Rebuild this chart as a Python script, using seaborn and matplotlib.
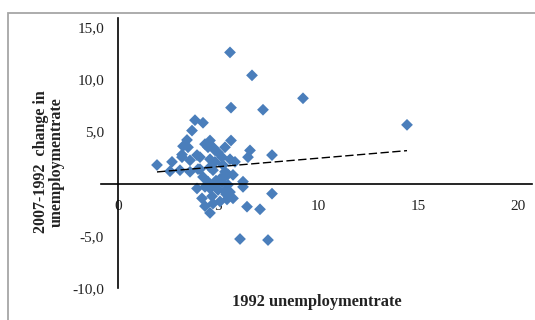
import numpy as np
import pandas as pd
import matplotlib
matplotlib.use("Agg")
import matplotlib.pyplot as plt
from matplotlib.patches import Rectangle
import seaborn as sns

# 1992 unemployment rate
rate_1992 = [5.6, 6.7, 9.25, 5.65, 7.25, 14.45, 3.85, 4.25, 3.7, 3.45,
             3.25, 3.2, 5.65, 4.6, 4.35, 4.75, 5.0, 6.6, 6.5, 7.7,
             1.95, 2.7, 3.2, 3.6, 3.95, 4.6, 5.6, 4.1, 4.75, 5.25,
             3.1, 3.6, 4.0, 4.25, 5.1, 5.75, 3.95, 4.6, 6.25, 4.35,
             4.2, 4.7, 5.1, 4.6, 5.75, 6.45, 7.1, 7.7, 6.1, 7.5,
             6.25, 4.85, 4.5, 5.2, 4.85, 5.35, 4.5, 4.85, 5.5, 4.35,
             2.6, 5.35, 4.1, 4.6, 5.85, 3.5, 4.75,
             5.3, 5.5, 5.0, 5.4, 4.9, 5.6, 5.2, 5.45, 5.15, 5.35]
# 2007-1992 change in unemployment rate
change = [12.6, 10.4, 8.2, 7.3, 7.1, 5.65, 6.1, 5.85, 5.1, 4.2,
          3.6, 2.8, 4.15, 4.15, 3.8, 3.5, 3.0, 3.2, 2.55, 2.75,
          1.8, 2.1, 2.55, 2.25, 2.75, 2.35, 2.35, 1.4, 1.3, 1.8,
          1.3, 1.15, 1.4, 0.65, 0.45, 0.85, -0.45, -0.45, -0.3, -0.3,
          -1.4, -1.2, -1.7, -2.8, -1.4, -2.2, -2.45, -0.95, -5.3, -5.4,
          0.2, 3.2, 3.5, 2.55, 2.1, 1.15, 0.2, -0.1, -0.1, -2.15,
          1.2, 3.5, 2.55, 1.6, 2.1, 3.5, -1.9,
          0.6, 0.9, -0.6, -1.0, 0.3, -0.8, 0.1, -1.5, 0.5, -0.7]

x_ticks = [0, 5, 10, 15, 20]
x_tick_labels = ["0", "5", "10", "15", "20"]
y_ticks = [-10, -5, 5, 10, 15]
y_tick_labels = ["-10,0", "-5,0", "5,0", "10,0", "15,0"]

df = pd.DataFrame({"rate": rate_1992, "change": change})

sns.set_style("white")
plt.rcParams["font.family"] = ["Liberation Serif", "DejaVu Serif"]

W, H = 535, 320
fig = plt.figure(figsize=(W / 100, H / 100), dpi=100)
fig.patch.set_facecolor("white")

# outer chart border (gray, cut off at right/bottom)
fig.patches.append(Rectangle((8 / W, -0.05), 1.2, 1 - 13 / H + 0.05,
                             transform=fig.transFigure, fill=False,
                             edgecolor="#a6a6a6", linewidth=1.3))

ax = fig.add_axes([101 / W, 1 - 288 / H, 431 / W, 270 / H])
ax.set_facecolor("none")

sns.scatterplot(data=df, x="rate", y="change", marker="D", s=36,
                color="#4a7ebb", edgecolor="none", linewidth=0, ax=ax, zorder=2)
sns.regplot(data=df, x="rate", y="change", scatter=False, ci=None,
            truncate=True, ax=ax,
            line_kws=dict(color="black", linewidth=1.0, linestyle=(0, (6, 2.5)), zorder=2.2))

ax.set_xlim(-0.85, 20.7)
ax.set_ylim(-9.5, 15.9)

for s in ["top", "right"]:
    ax.spines[s].set_visible(False)
ax.spines["left"].set_position(("data", 0))
ax.spines["bottom"].set_position(("data", 0))
ax.spines["left"].set_color("black")
ax.spines["bottom"].set_color("black")
ax.spines["left"].set_linewidth(1.2)
ax.spines["bottom"].set_linewidth(1.2)

ax.set_xticks(x_ticks)
ax.set_xticklabels(x_tick_labels)
ax.set_yticks(y_ticks)
ax.set_yticklabels(y_tick_labels)
ax.tick_params(axis="x", direction="in", length=4, width=0.8, pad=12,
               labelsize=11, labelcolor="#222222", color="#555555")
ax.tick_params(axis="y", direction="out", length=3, width=0.8, pad=7,
               labelsize=11, labelcolor="#222222", color="#555555")
ax.set_xlabel("")
ax.set_ylabel("")

fig.text(49 / W, 1 - 162 / H, "2007-1992  change in\nunemploymentrate",
         rotation=90, ha="center", va="center", fontsize=11.5,
         fontweight="bold", linespacing=1.0, color="#222222")
fig.text(317 / W, 1 - 302 / H, "1992 unemploymentrate", ha="center",
         va="center", fontsize=11.8, fontweight="bold", color="#222222")

fig.savefig("out.png", dpi=100)
